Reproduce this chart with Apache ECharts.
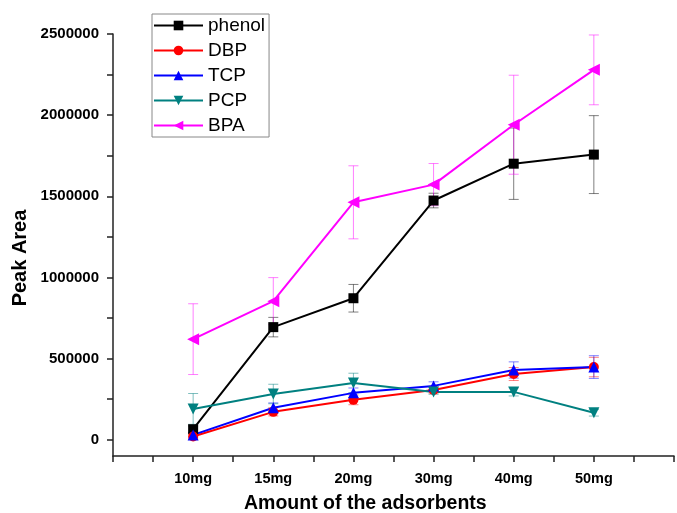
<!DOCTYPE html>
<html lang="en">
<head>
    <meta charset="UTF-8">
    <title>Peak Area</title>
    <style>
        html, body { margin: 0; padding: 0; background: #fff; }
        #main { width: 677px; height: 513px; }
    </style>
</head>
<body>
<div id="main"></div>
<script src="https://cdn.jsdelivr.net/npm/echarts@6/dist/echarts.min.js"></script>
<script>
    const myChart = echarts.init(document.getElementById('main'));

    // categories on the x axis (placed at 1..6)
    const categories = ['10mg', '15mg', '20mg', '30mg', '40mg', '50mg'];

    // series values and their error bars
    const phenol = [65000, 694000, 872000, 1474000, 1701000, 1757000];
    const phenolErr = [20000, 60000, 85000, 45000, 220000, 240000];
    const dbp = [20000, 172000, 246000, 307000, 405000, 448000];
    const dbpErr = [15000, 25000, 30000, 20000, 40000, 60000];
    const tcp = [30000, 197000, 289000, 332000, 430000, 448000];
    const tcpErr = [15000, 30000, 30000, 25000, 50000, 70000];
    const pcp = [190000, 282000, 350000, 295000, 295000, 166000];
    const pcpErr = [95000, 60000, 60000, 15000, 25000, 20000];
    const bpa = [620000, 854000, 1463000, 1572000, 1941000, 2279000];
    const bpaErr = [218000, 145000, 225000, 130000, 305000, 215000];

    // y tick positions
    const yTicks = [0, 250000, 500000, 750000, 1000000, 1250000, 1500000, 1750000, 2000000, 2250000, 2500000];
    const yLabels = [0, 500000, 1000000, 1500000, 2000000, 2500000];

    const font = 'Liberation Sans';

    const defs = [
        {name: 'phenol', data: phenol, err: phenolErr, color: '#000000', symbol: 'rect', rotate: 0, size: 10},
        {name: 'DBP', data: dbp, err: dbpErr, color: '#ff0000', symbol: 'circle', rotate: 0, size: 10},
        {name: 'TCP', data: tcp, err: tcpErr, color: '#0000ff', symbol: 'triangle', rotate: 0, size: 11},
        {name: 'PCP', data: pcp, err: pcpErr, color: '#008080', symbol: 'triangle', rotate: 180, size: 11},
        {name: 'BPA', data: bpa, err: bpaErr, color: '#ff00ff', symbol: 'triangle', rotate: 90, size: 12}
    ];

    // error bars as custom series
    function errorSeries(d) {
        return {
            type: 'custom',
            name: d.name + '-err',
            silent: true,
            z: 1,
            data: d.data.map((v, i) => [i + 1, v - d.err[i], v + d.err[i]]),
            renderItem: function (params, api) {
                const lo = api.coord([api.value(0), api.value(1)]);
                const hi = api.coord([api.value(0), api.value(2)]);
                const w = 5;
                const style = {stroke: d.color, lineWidth: 1, opacity: 0.5};
                return {
                    type: 'group',
                    children: [
                        {type: 'line', shape: {x1: lo[0], y1: lo[1], x2: hi[0], y2: hi[1]}, style},
                        {type: 'line', shape: {x1: lo[0] - w, y1: lo[1], x2: lo[0] + w, y2: lo[1]}, style},
                        {type: 'line', shape: {x1: hi[0] - w, y1: hi[1], x2: hi[0] + w, y2: hi[1]}, style}
                    ]
                };
            }
        };
    }

    const lineSeries = defs.map(d => ({
        name: d.name,
        type: 'line',
        z: 3,
        data: d.data.map((v, i) => [i + 1, v]),
        symbol: d.symbol,
        symbolRotate: d.rotate,
        symbolSize: d.size,
        color: d.color,
        lineStyle: {width: 2, color: d.color},
        itemStyle: {color: d.color},
        emphasis: {disabled: true}
    }));

    const option = {
        animation: false,
        grid: {left: 113, top: 34, width: 567, height: 422},
        title: {
            text: 'Amount of the adsorbents',
            left: 244,
            top: 494,
            padding: 0,
            textStyle: {fontFamily: font, fontSize: 19.5, fontWeight: 'bold', color: '#000'}
        },
        // y axis title, rotated
        graphic: [{
            type: 'text',
            x: 20,
            y: 258,
            rotation: Math.PI / 2,
            style: {
                text: 'Peak Area',
                fontFamily: font, fontSize: 20, fontWeight: 'bold', fill: '#000',
                textAlign: 'center', textVerticalAlign: 'middle'
            }
        }],
        legend: {
            orient: 'vertical',
            left: 152,
            top: 14,
            padding: [2, 4, 2, 1],
            itemWidth: 49,
            itemHeight: 12,
            itemGap: 6,
            borderColor: '#888',
            borderWidth: 1,
            data: defs.map(d => d.name),
            textStyle: {fontFamily: font, fontSize: 19, lineHeight: 19, color: '#000'}
        },
        xAxis: {
            type: 'value',
            min: 0,
            max: 7,
            interval: 0.5,
            axisLine: {onZero: false, lineStyle: {color: '#222', width: 1.5}},
            axisTick: {length: 6, lineStyle: {color: '#222', width: 1.5}},
            splitLine: {show: false},
            axisLabel: {
                fontFamily: font, fontSize: 14.5, fontWeight: 'bold', color: '#000', margin: 15,
                formatter: v => (Number.isInteger(v) && v >= 1 && v <= 6) ? categories[v - 1] : ''
            }
        },
        yAxis: {
            type: 'value',
            min: -100000,
            max: 2500000,
            axisLine: {show: true, lineStyle: {color: '#222', width: 1.5}},
            axisTick: {show: true, length: 6, customValues: yTicks, lineStyle: {color: '#222', width: 1.5}},
            splitLine: {show: false},
            axisLabel: {
                customValues: yLabels,
                formatter: v => String(v),
                fontFamily: font, fontSize: 15, fontWeight: 'bold', color: '#000', margin: 14
            }
        },
        series: defs.map(errorSeries).concat(lineSeries)
    };

    myChart.setOption(option);
</script>
</body>
</html>
